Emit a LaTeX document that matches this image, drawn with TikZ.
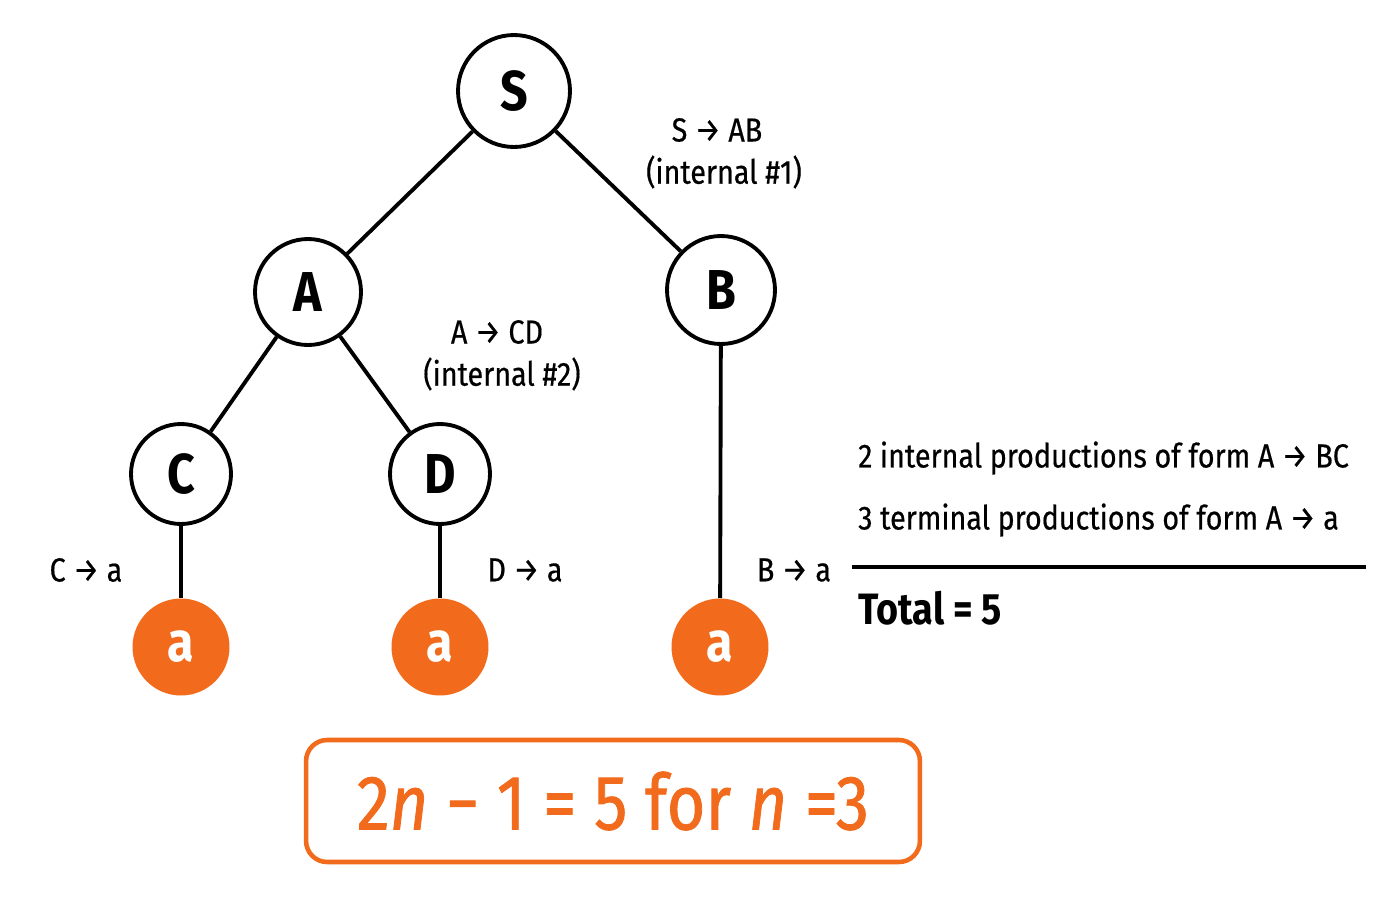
\documentclass[tikz,border=0pt]{standalone}
\usepackage{fontspec}
\setmainfont{Fira Sans}[FakeStretch=0.86]
\definecolor{org}{HTML}{F26A1B}
\begin{document}
\begin{tikzpicture}[x=0.02cm,y=-0.02cm,
  inner/.style={circle,draw=black,line width=2.2pt,fill=white,font=\fontsize{32}{36}\selectfont\bfseries},
  leaf/.style={circle,fill=org,text=white,font=\fontsize{32}{36}\selectfont\bfseries},
  edge/.style={line width=2.2pt},
  lab/.style={font=\fontsize{19}{22}\selectfont\addfontfeature{FakeBold=0.5}}]
\useasboundingbox (0,0) rectangle (1400,900);
\node[inner,minimum size=112\pgflinewidth*0+2.24cm] (S) at (514,91) {S};
\node[inner,minimum size=2.12cm] (A) at (308,292) {A};
\node[inner,minimum size=2.16cm] (B) at (721,290) {B};
\node[inner,minimum size=2.0cm] (C) at (181,474) {C};
\node[inner,minimum size=2.0cm] (D) at (440,474) {D};
\node[leaf,minimum size=1.94cm] (a1) at (181,647) {a};
\node[leaf,minimum size=1.94cm] (a2) at (440,647) {a};
\node[leaf,minimum size=1.94cm] (a3) at (720,647) {a};
\draw[edge] (S)--(A); \draw[edge] (S)--(B);
\draw[edge] (A)--(C); \draw[edge] (A)--(D);
\draw[edge] (C)--(a1); \draw[edge] (D)--(a2); \draw[edge] (B)--(a3);
\node[lab] (l1) at (717,130) {S → AB};
\node[lab] (l2) at (724,172) {(internal \#1)};
\node[lab] (l3) at (497,332) {A → CD};
\node[lab] (l4) at (502,374) {(internal \#2)};
\node[lab] (l5) at (86,570) {C → a};
\node[lab] (l6) at (525,570) {D → a};
\node[lab] (l7) at (794,570) {B → a};
\node[lab,anchor=west] (r1) at (852,458) {2 internal productions of form A → BC};
\node[lab,anchor=west] (r2) at (852,520) {3 terminal productions of form A → a};
\coordinate (h1) at (852,567); \coordinate (h2) at (1366,567);
\draw[line width=1.8pt] (h1)--(h2);
\node[anchor=west,font=\fontsize{25}{30}\selectfont\bfseries] (tot) at (852,608) {Total = 5};
\node[draw=org,line width=2.6pt,rounded corners=12pt,minimum width=12.28cm,minimum height=2.44cm,text=org,font=\fontsize{44}{50}\selectfont\addfontfeature{FakeBold=1}] (box) at (613,801) {2\textit{n} − 1 = 5 for \textit{n} =3};
\end{tikzpicture}
\end{document}
